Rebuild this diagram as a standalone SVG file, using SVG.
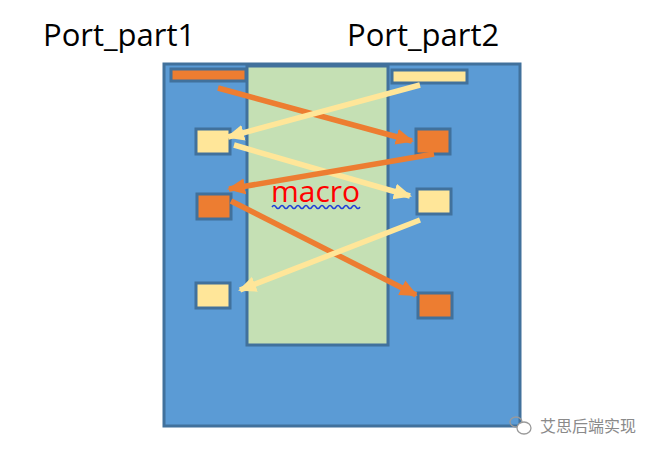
<svg xmlns="http://www.w3.org/2000/svg" width="655" height="454" viewBox="0 0 655 454">
  <style>
    .frame { fill: #5B9BD5; stroke: #41719C; stroke-width: 3; }
    .macro { fill: #C5E0B4; stroke: #41719C; stroke-width: 3; }
    .po { fill: #ED7D31; stroke: #41719C; stroke-width: 3; }
    .py { fill: #FFE699; stroke: #41719C; stroke-width: 3; }
    .ao { fill: none; stroke: #ED7D31; stroke-width: 5.5; marker-end: url(#headO); }
    .ay { fill: none; stroke: #FFE699; stroke-width: 5.5; marker-end: url(#headY); }
    .title { font-family: "Open Sans", "Liberation Sans", sans-serif; font-size: 31px; fill: #000; }
    .mtext { font-family: "Open Sans", "Liberation Sans", sans-serif; font-size: 30px; fill: #FF0000; }
    .wm { font-family: "Noto Sans CJK SC", sans-serif; font-size: 16px; fill: #8a8a8a; }
  </style>
  <defs>
    <marker id="headO" markerUnits="userSpaceOnUse" markerWidth="18" markerHeight="18" viewBox="0 0 18 18" refX="16" refY="9" orient="auto">
      <path d="M0,1 L18,9 L0,17 Z" fill="#ED7D31"/>
    </marker>
    <marker id="headY" markerUnits="userSpaceOnUse" markerWidth="18" markerHeight="18" viewBox="0 0 18 18" refX="16" refY="9" orient="auto">
      <path d="M0,1 L18,9 L0,17 Z" fill="#FFE699"/>
    </marker>
  </defs>
  <rect width="655" height="454" fill="#ffffff"/>

  <text class="title" x="43" y="46">Port_part1</text>
  <text class="title" x="347" y="46">Port_part2</text>

  <g id="frame"><rect class="frame" x="164" y="64" width="356" height="362"/></g>
  <g id="macro">
    <rect class="macro" x="247" y="66" width="141" height="279"/>
    <text class="mtext" x="271" y="202">macro</text>
    <path d="M272,207 q2,-3 4,0 t4,0 t4,0 t4,0 t4,0 t4,0 t4,0 t4,0 t4,0 t4,0 t4,0 t4,0 t4,0 t4,0 t4,0 t4,0 t4,0 t4,0 t4,0 t4,0 t4,0 t4,0" fill="none" stroke="#1F3FD8" stroke-width="1.5"/>
  </g>

  <g id="p1_top"><rect class="po" x="171" y="69" width="75" height="12"/></g>
  <g id="p2_top"><rect class="py" x="392" y="70" width="75" height="13"/></g>
  <g id="p1_a"><rect class="py" x="196" y="129" width="34" height="25"/></g>
  <g id="p2_a"><rect class="po" x="416" y="129" width="34" height="25"/></g>
  <g id="p1_b"><rect class="po" x="197" y="194" width="34" height="25"/></g>
  <g id="p2_b"><rect class="py" x="417" y="189" width="34" height="25"/></g>
  <g id="p1_c"><rect class="py" x="196" y="283" width="34" height="25"/></g>
  <g id="p2_c"><rect class="po" x="418" y="293" width="34" height="25"/></g>

  <g id="connectors">
    <line class="ao" x1="218" y1="88" x2="412" y2="141"/>
    <line class="ay" x1="420" y1="85" x2="228" y2="137"/>
    <line class="ay" x1="234" y1="145" x2="410" y2="196"/>
    <line class="ao" x1="434" y1="154" x2="229" y2="189"/>
    <line class="ao" x1="231" y1="201" x2="416" y2="295"/>
    <line class="ay" x1="420" y1="220" x2="240" y2="290"/>
  </g>

  <g id="watermark">
    <ellipse cx="516" cy="422" rx="6" ry="5" fill="none" stroke="#9a9a9a" stroke-width="1.3"/>
    <ellipse cx="524" cy="428" rx="7" ry="6" fill="#ffffff" stroke="#9a9a9a" stroke-width="1.3"/>
    <text class="wm" x="540" y="432">艾思后端实现</text>
  </g>
</svg>
